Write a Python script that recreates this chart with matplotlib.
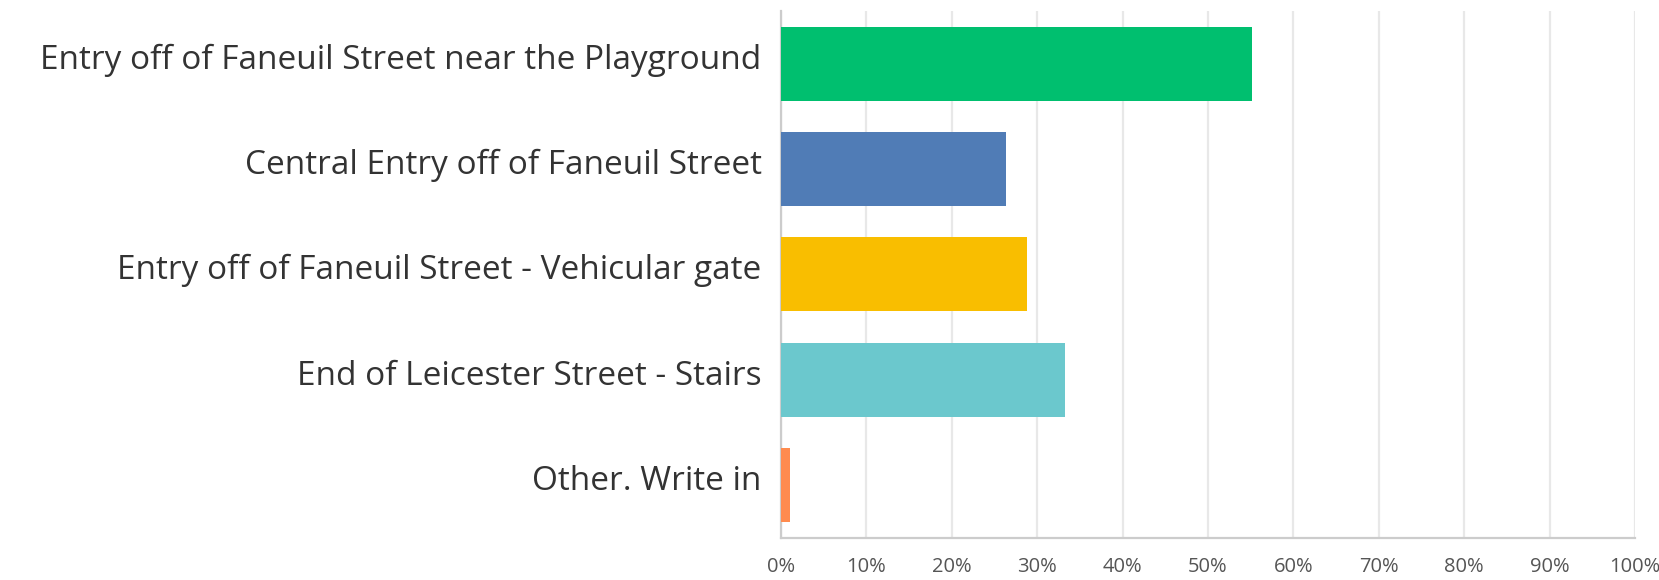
import matplotlib.pyplot as plt
import matplotlib.transforms as mtransforms
import numpy as np

categories = ['Entry off of Faneuil Street near the Playground',
              'Central Entry off of Faneuil Street',
              'Entry off of Faneuil Street - Vehicular gate',
              'End of Leicester Street - Stairs',
              'Other. Write in']
values = [55.2, 26.4, 28.8, 33.3, 1.0]
colors = ['#00BF6F', '#507CB6', '#F9BE00', '#6BC8CD', '#FF8B4F']
ticks = np.arange(0, 101, 10)
tick_labels = [f'{t}%' for t in ticks]

plt.rcParams['font.family'] = ['Open Sans', 'DejaVu Sans']

fig = plt.figure(figsize=(16.59, 5.8), dpi=100)
ax = fig.add_axes([0.4708, 0.073, 0.5147, 0.908])

y = np.arange(len(categories))
ax.barh(y, values, height=0.7, color=colors, zorder=3)

ax.set_xlim(0, 100)
ax.set_ylim(len(categories) - 0.5, -0.5)
ax.set_yticks(y)
ax.set_yticklabels(categories, fontsize=24, color='#333333')
ax.set_xticks(ticks)
ax.set_xticklabels(tick_labels, fontsize=14.5, color='#555555')
ax.tick_params(axis='y', length=0, pad=14)
ax.tick_params(axis='x', length=0, pad=14)

# labels sit a little above the bar centre
shift = mtransforms.ScaledTranslation(0, 5.5 / 72, fig.dpi_scale_trans)
for lab in ax.get_yticklabels():
    lab.set_transform(lab.get_transform() + shift)

ax.grid(axis='x', color='#e8e8e8', linewidth=1.6, zorder=0)
for s in ['top', 'right']:
    ax.spines[s].set_visible(False)
for s in ['left', 'bottom']:
    ax.spines[s].set_color('#cccccc')
    ax.spines[s].set_linewidth(1.6)

fig.savefig('out.png', dpi=100)
